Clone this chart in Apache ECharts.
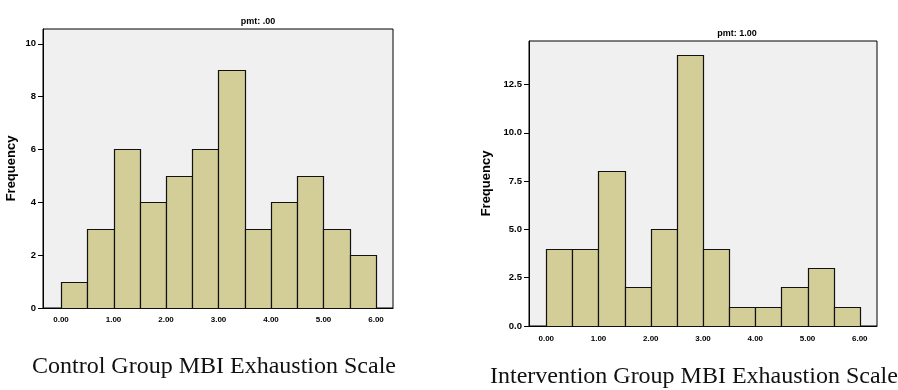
<!DOCTYPE html>
<html>
<head>
<meta charset="utf-8">
<style>
  html, body { margin: 0; padding: 0; background: #ffffff; }
  #chart { width: 898px; height: 390px; }
</style>
<script src="https://cdn.jsdelivr.net/npm/echarts@6/dist/echarts.min.js"></script>
</head>
<body>
<div id="chart"></div>
<script>
// Histogram bins (MBI exhaustion score, width 0.5)
const binEdges = [0, 0.5, 1, 1.5, 2, 2.5, 3, 3.5, 4, 4.5, 5, 5.5, 6];
const controlCounts = [1, 3, 6, 4, 5, 6, 9, 3, 4, 5, 3, 2];
const interventionCounts = [4, 4, 8, 2, 5, 14, 4, 1, 1, 2, 3, 1];

const xTicks = [0, 1, 2, 3, 4, 5, 6];
const controlYTicks = [0, 2, 4, 6, 8, 10];
const interventionYTicks = [0, 2.5, 5, 7.5, 10, 12.5];

const panelTitles = ['pmt: .00', 'pmt: 1.00'];
const captions = ['Control Group MBI Exhaustion Scale', 'Intervention Group MBI Exhaustion Scale'];

const BAR_FILL = '#d3ce98';
const PLOT_BG = '#f0f0f0';
const INK = '#000000';
const SANS = 'Liberation Sans, Arial, sans-serif';
const SERIF = 'Liberation Serif, Times New Roman, serif';

function binData(counts) {
  return counts.map((c, i) => [binEdges[i], binEdges[i + 1], c]);
}

function renderBin(params, api) {
  const lo = api.coord([api.value(0), api.value(2)]);
  const hi = api.coord([api.value(1), 0]);
  const x = Math.round(lo[0]) + 0.5;
  const y = Math.round(lo[1]) + 0.5;
  const w = Math.round(hi[0]) - Math.round(lo[0]);
  const h = Math.round(hi[1]) - Math.round(lo[1]);
  return {
    type: 'rect',
    shape: { x: x, y: y, width: w, height: h },
    style: { fill: BAR_FILL, stroke: '#111111', lineWidth: 1.2 }
  };
}

function xAxisFor(gridIndex, min, max, margin) {
  return {
    type: 'value', gridIndex: gridIndex, min: min, max: max,
    splitLine: { show: false },
    axisLine: { show: true, onZero: false, lineStyle: { color: INK, width: 1 } },
    axisTick: { show: false },
    axisLabel: {
      customValues: xTicks,
      formatter: v => v.toFixed(2),
      margin: margin,
      fontFamily: SANS, fontWeight: 'bold', fontSize: 8, color: '#000'
    }
  };
}

function yAxisFor(gridIndex, max, ticks, fmt, nameGap) {
  return {
    type: 'value', gridIndex: gridIndex, min: 0, max: max,
    name: 'Frequency', nameLocation: 'middle', nameGap: nameGap,
    nameTextStyle: { fontFamily: SANS, fontWeight: 'bold', fontSize: 13, color: '#000' },
    splitLine: { show: false },
    axisLine: { show: true, onZero: false, lineStyle: { color: INK, width: 1 } },
    axisTick: { show: true, customValues: ticks, length: 5, inside: false, lineStyle: { color: INK } },
    axisLabel: {
      customValues: ticks,
      formatter: fmt,
      margin: 7,
      fontFamily: SANS, fontWeight: 'bold', fontSize: 9.5, color: '#000'
    }
  };
}

const chart = echarts.init(document.getElementById('chart'), null, { renderer: 'canvas' });

chart.setOption({
  animation: false,
  backgroundColor: '#ffffff',
  grid: [
    { left: 43, top: 29, width: 350, height: 279, show: true, backgroundColor: PLOT_BG, borderColor: INK, borderWidth: 1 },
    { left: 529, top: 41, width: 348, height: 285, show: true, backgroundColor: PLOT_BG, borderColor: INK, borderWidth: 1 }
  ],
  xAxis: [
    xAxisFor(0, -0.343, 6.324, 8),
    xAxisFor(1, -0.33, 6.33, 9)
  ],
  yAxis: [
    yAxisFor(0, 10.56, controlYTicks, v => String(v), 25),
    yAxisFor(1, 14.75, interventionYTicks, v => v.toFixed(1), 36)
  ],
  title: [
    { text: panelTitles[0], left: 258, top: 17, textAlign: 'center', padding: 0,
      textStyle: { fontFamily: SANS, fontWeight: 'bold', fontSize: 9, color: '#000' } },
    { text: panelTitles[1], left: 737, top: 29, textAlign: 'center', padding: 0,
      textStyle: { fontFamily: SANS, fontWeight: 'bold', fontSize: 9, color: '#000' } }
  ],
  graphic: [
    { type: 'text', left: 32, top: 355,
      style: { text: captions[0], font: '24px ' + SERIF, fill: '#111111' } },
    { type: 'text', left: 490, top: 365,
      style: { text: captions[1], font: '24px ' + SERIF, fill: '#111111' } }
  ],
  series: [
    { type: 'custom', xAxisIndex: 0, yAxisIndex: 0, renderItem: renderBin,
      encode: { x: [0, 1], y: 2 }, data: binData(controlCounts) },
    { type: 'custom', xAxisIndex: 1, yAxisIndex: 1, renderItem: renderBin,
      encode: { x: [0, 1], y: 2 }, data: binData(interventionCounts) }
  ]
});
</script>
</body>
</html>
